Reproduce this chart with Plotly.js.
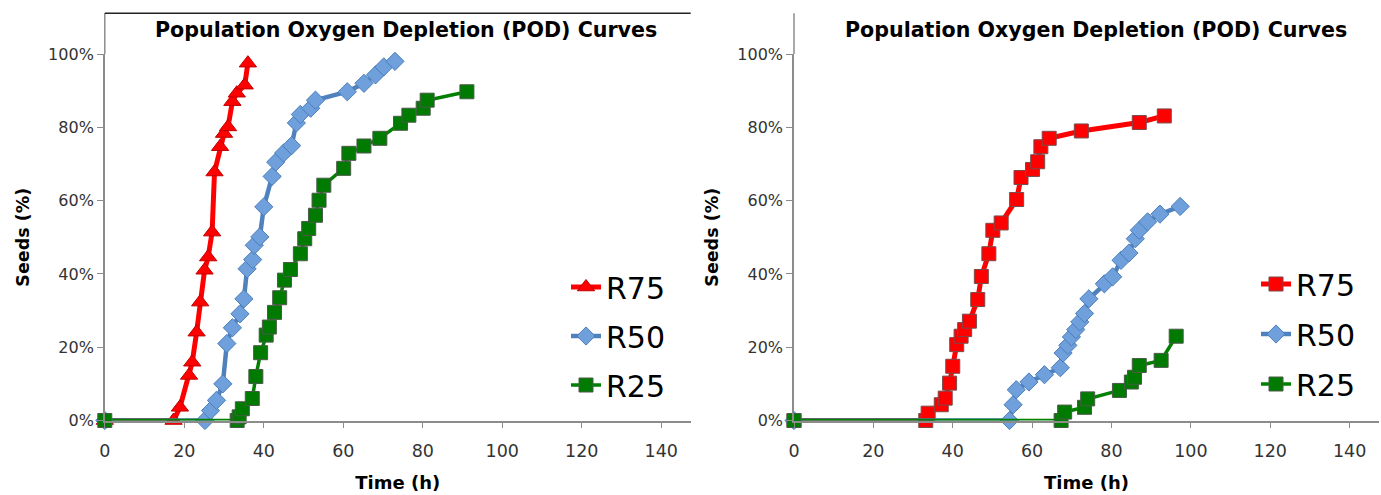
<!DOCTYPE html>
<html>
<head>
<meta charset="utf-8">
<script src="https://cdn.plot.ly/plotly-3.0.1.min.js"></script>
<style>
  html, body { margin: 0; padding: 0; background: #ffffff; }
  #chart { width: 1381px; height: 495px; }
</style>
</head>
<body>
<div id="chart"></div>
<script>
// ---------- Data ----------
// Left panel (triangle / diamond / square markers)
const leftR75Time = [0, 17.3, 18.9, 21.2, 22.0, 23.1, 24.0, 25.1, 26.0, 27.0, 27.6, 29.0, 30.0, 31.0, 32.1, 33.2, 35.2, 36.0];
const leftR75Pct  = [0, 0, 3.6, 12.3, 15.9, 24.1, 32.3, 41.0, 44.6, 51.4, 67.8, 74.7, 78.3, 80.1, 87.0, 89.3, 91.5, 97.5];

const leftR50Time = [0, 25.2, 26.6, 28.1, 29.7, 30.7, 32.1, 34.0, 35.0, 35.8, 37.2, 37.6, 39.0, 40.0, 42.1, 43.0, 45.0, 47.0, 48.2, 49.2, 51.8, 53.0, 61.0, 65.2, 68.1, 70.2, 73.0];
const leftR50Pct  = [0, 0, 2.7, 5.5, 10.0, 21.0, 25.3, 29.1, 33.2, 41.4, 43.9, 47.8, 50.1, 58.3, 66.6, 70.5, 73.0, 75.0, 81.2, 83.5, 85.2, 87.4, 89.7, 92.0, 94.3, 96.5, 98.0];

const leftR25Time = [0, 33.3, 33.8, 34.6, 37.1, 38.0, 39.2, 40.6, 41.4, 42.7, 44.0, 45.2, 46.7, 49.2, 50.3, 51.3, 53.0, 53.9, 55.1, 60.1, 61.4, 65.2, 69.2, 74.4, 76.5, 80.1, 81.1, 91.1];
const leftR25Pct  = [0, 0, 1.0, 3.2, 6.0, 12.0, 18.5, 23.3, 25.5, 29.5, 33.5, 38.3, 41.2, 45.5, 49.6, 52.4, 56.0, 60.1, 64.2, 68.8, 72.9, 74.9, 77.0, 81.1, 83.3, 85.2, 87.4, 89.7];

// Right panel (square / diamond / square markers)
const rightR75Time = [0, 33.2, 33.8, 37.1, 38.1, 39.2, 40.0, 41.0, 42.1, 43.0, 44.2, 46.3, 47.2, 49.1, 50.1, 52.2, 56.1, 57.2, 60.1, 61.4, 62.2, 64.3, 72.4, 87.0, 93.3];
const rightR75Pct  = [0, 0, 2.0, 4.3, 6.1, 10.2, 14.8, 20.7, 23.0, 24.8, 27.1, 33.0, 39.3, 45.5, 51.9, 53.9, 60.3, 66.3, 68.5, 70.6, 74.7, 77.0, 79.0, 81.3, 83.1];

const rightR50Time = [0, 54.3, 55.2, 56.0, 59.2, 63.1, 67.1, 67.8, 69.0, 69.9, 71.0, 72.0, 73.2, 74.3, 78.2, 80.3, 82.4, 84.4, 86.0, 87.0, 89.1, 92.2, 97.3];
const rightR50Pct  = [0, 0, 4.3, 8.4, 10.5, 12.5, 14.4, 18.4, 20.5, 22.8, 24.8, 26.9, 29.2, 33.2, 37.3, 39.2, 43.7, 45.7, 49.6, 51.9, 54.2, 56.3, 58.4];

const rightR25Time = [0, 67.3, 68.2, 73.2, 74.0, 82.0, 85.0, 85.8, 87.0, 92.5, 96.3];
const rightR25Pct  = [0, 0, 2.3, 3.6, 5.9, 8.2, 10.5, 11.8, 15.0, 16.4, 23.0];

const seriesNames = ['R75', 'R50', 'R25'];
const yTickVals = [0, 20, 40, 60, 80, 100];
const yTickText = ['0%', '20%', '40%', '60%', '80%', '100%'];
const xTickVals = [0, 20, 40, 60, 80, 100, 120, 140];
const xTickText = ['0', '20', '40', '60', '80', '100', '120', '140'];
const panelTitle = 'Population Oxygen Depletion (POD) Curves';
const xTitle = 'Time (h)';
const yTitle = 'Seeds (%)';

// ---------- Styles ----------
const FONT = 'DejaVu Sans, Liberation Sans, Arial, sans-serif';
const RED = '#FF0000', BLUE = '#4F81BD', GREEN = '#008000';
const AXIS = '#8C8C8C';

function trace(x, y, name, xa, ya, legendName, lineColor, lineWidth, symbol, size, fill, border, group) {
  return {
    type: 'scatter', mode: 'lines+markers', x: x, y: y, name: name,
    xaxis: xa, yaxis: ya, legend: legendName, legendgroup: group,
    cliponaxis: false,
    line: { color: lineColor, width: lineWidth },
    marker: { symbol: symbol, size: size, color: fill, line: { color: border, width: 1 } },
    hoverinfo: 'x+y+name'
  };
}

const data = [
  trace(leftR75Time, leftR75Pct, seriesNames[0], 'x', 'y', 'legend', RED, 5, 'triangle-up', 15, '#FF0000', '#C00000', 'l1'),
  trace(leftR50Time, leftR50Pct, seriesNames[1], 'x', 'y', 'legend', BLUE, 4.5, 'diamond', 14, '#6FA0DC', '#4A7EBB', 'l2'),
  trace(leftR25Time, leftR25Pct, seriesNames[2], 'x', 'y', 'legend', GREEN, 3.5, 'square', 14, '#007A00', '#4A5A4A', 'l3'),
  trace(rightR75Time, rightR75Pct, seriesNames[0], 'x2', 'y2', 'legend2', RED, 5, 'square', 14, '#FF0000', '#7A4A4A', 'r1'),
  trace(rightR50Time, rightR50Pct, seriesNames[1], 'x2', 'y2', 'legend2', BLUE, 4.5, 'diamond', 14, '#6FA0DC', '#4A7EBB', 'r2'),
  trace(rightR25Time, rightR25Pct, seriesNames[2], 'x2', 'y2', 'legend2', GREEN, 3.5, 'square', 14, '#007A00', '#4A5A4A', 'r3')
];

const W = 1381, H = 495;
const px = v => v / W;           // pixel x -> paper
const py = v => 1 - v / H;       // pixel y -> paper

const xRange = [0, 147.4];
function xAxis(domain, anchor) {
  return {
    domain: domain, range: xRange, anchor: anchor, tickmode: 'array', tickvals: xTickVals, ticktext: xTickText,
    showgrid: false, zeroline: false, showline: true, linecolor: AXIS, linewidth: 1.5,
    ticks: 'outside', ticklen: 6, tickcolor: AXIS, tickwidth: 1.2,
    tickfont: { family: FONT, size: 17.5, color: '#333333' }, ticklabelstandoff: 8,
    title: { text: xTitle, font: { family: FONT, size: 18, color: '#000', weight: 'bold' }, standoff: 16 },
    fixedrange: true, automargin: false
  };
}
function yAxis(anchor) {
  return {
    domain: [py(420.5), py(54)], range: [0, 100], anchor: anchor, tickmode: 'array', tickvals: yTickVals, ticktext: yTickText,
    showgrid: false, zeroline: false, showline: true, linecolor: AXIS, linewidth: 1.5,
    ticks: 'outside', ticklen: 6, tickcolor: AXIS, tickwidth: 1.2,
    tickfont: { family: FONT, size: 16, color: '#333333' },
    title: { text: yTitle, font: { family: FONT, size: 17.5, color: '#000', weight: 'bold' }, standoff: 14 },
    fixedrange: true, automargin: false
  };
}

const leftDom = [px(104.8), px(690.7)];
const rightDom = [px(794), px(1379)];

const layout = {
  width: W, height: H,
  margin: { l: 0, r: 0, t: 0, b: 0, pad: 0 },
  paper_bgcolor: '#ffffff', plot_bgcolor: '#ffffff',
  font: { family: FONT, color: '#000' },
  showlegend: true,
  xaxis: xAxis(leftDom, 'y'),
  yaxis: yAxis('x'),
  xaxis2: xAxis(rightDom, 'y2'),
  yaxis2: yAxis('x2'),
  legend: {
    x: px(566), y: py(261), xanchor: 'left', yanchor: 'top',
    font: { family: FONT, size: 30, color: '#000' },
    bgcolor: 'rgba(0,0,0,0)', borderwidth: 0, tracegroupgap: 7, itemwidth: 30
  },
  legend2: {
    x: px(1256), y: py(258), xanchor: 'left', yanchor: 'top',
    font: { family: FONT, size: 30, color: '#000' },
    bgcolor: 'rgba(0,0,0,0)', borderwidth: 0, tracegroupgap: 8, itemwidth: 30
  },
  annotations: [
    { text: panelTitle, xref: 'paper', yref: 'paper', x: px(406), y: py(30), xanchor: 'center', yanchor: 'middle',
      showarrow: false, font: { family: FONT, size: 20.6, color: '#000', weight: 'bold' } },
    { text: panelTitle, xref: 'paper', yref: 'paper', x: px(1096), y: py(30), xanchor: 'center', yanchor: 'middle',
      showarrow: false, font: { family: FONT, size: 20.6, color: '#000', weight: 'bold' } }
  ],
  shapes: [
    // left plot area: y-axis continues above 100% and a top border line
    { type: 'line', xref: 'paper', yref: 'paper', x0: px(104.8), x1: px(104.8), y0: py(54), y1: py(13.3), line: { color: AXIS, width: 1.5 } },
    { type: 'line', xref: 'paper', yref: 'paper', x0: px(104.8), x1: px(690.7), y0: py(13.3), y1: py(13.3), line: { color: '#222222', width: 1.5 } },
    // right plot area: y-axis continues above 100%
    { type: 'line', xref: 'paper', yref: 'paper', x0: px(794), x1: px(794), y0: py(54), y1: py(13.3), line: { color: AXIS, width: 1.5 } }
  ]
};

Plotly.newPlot('chart', data, layout, { displayModeBar: false });
</script>
</body>
</html>
